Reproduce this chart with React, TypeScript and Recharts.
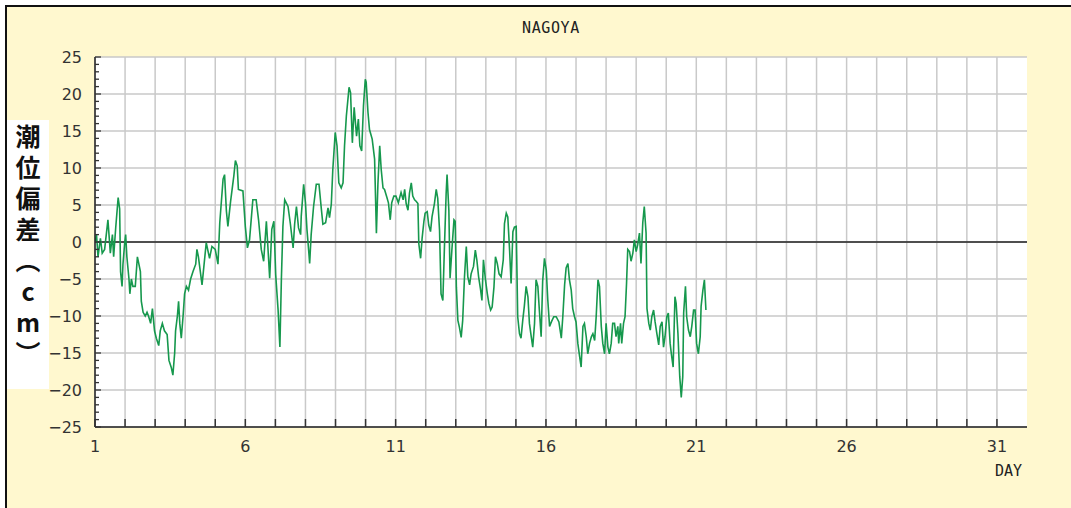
import React from 'react';
import { LineChart, Line, XAxis, YAxis, CartesianGrid, ReferenceLine } from 'recharts';

// 潮位偏差 (cm), as [day, cm]
const days01to04: [number, number][] = [
  [1.0, 0], [1.05, 1], [1.1, -2], [1.18, 0.5], [1.24, -1.5], [1.32, -1], [1.43, 3], [1.51, -1.5],
  [1.58, 1], [1.62, -2], [1.69, 2], [1.77, 6], [1.82, 4.5], [1.85, -4], [1.9, -6], [1.93, -3],
  [1.99, 0], [2.02, 1], [2.06, -2], [2.13, -5], [2.16, -7], [2.21, -5], [2.26, -6], [2.34, -6],
  [2.41, -2], [2.46, -3], [2.51, -4], [2.54, -8], [2.6, -9.5], [2.67, -10], [2.73, -9.5], [2.78, -10],
  [2.85, -11], [2.91, -9], [2.98, -12], [3.04, -13], [3.12, -14], [3.17, -12], [3.24, -11], [3.31, -12],
  [3.4, -12.5], [3.46, -16], [3.54, -17], [3.59, -18], [3.65, -15], [3.68, -12], [3.74, -10], [3.78, -8],
  [3.82, -11], [3.87, -13], [3.93, -10], [3.98, -7], [4.04, -6], [4.11, -6.5], [4.18, -5], [4.26, -4],
  [4.35, -3], [4.39, -1], [4.44, -2],
];

const days04to07: [number, number][] = [
  [4.56, -5.8], [4.7, -0.1], [4.81, -2.2], [4.89, -0.6], [5.0, -1], [5.09, -3], [5.15, 2.6], [5.26, 8.5],
  [5.31, 9.1], [5.37, 4.2], [5.42, 2.1], [5.51, 5.5], [5.62, 9], [5.67, 11], [5.73, 10.3], [5.77, 7.1],
  [5.92, 6.9], [6.0, 2.1], [6.07, -0.8], [6.14, 0.3], [6.25, 5.7], [6.36, 5.7], [6.44, 3], [6.53, -1],
  [6.61, -2.6], [6.7, 2.8], [6.75, -0.6], [6.81, -4.9], [6.88, 1.7], [6.95, 2.8], [7.01, -4.4], [7.09, -9.2],
  [7.15, -14.2], [7.2, -4.9], [7.25, 2.1], [7.31, 5.7], [7.42, 4.8], [7.5, 2.4], [7.59, -0.8], [7.64, 2.4],
  [7.7, 4.8], [7.77, 1.9], [7.84, 1],
];

const days08to11: [number, number][] = [
  [7.86, 3.5], [7.94, 7.8], [8.0, 5.3], [8.05, 1.7], [8.11, -1.3], [8.14, -2.9], [8.19, 1], [8.27, 4.8],
  [8.36, 7.8], [8.45, 7.8], [8.53, 4.4], [8.58, 2.4], [8.67, 2.6], [8.75, 4.6], [8.8, 3.3], [8.86, 5.1],
  [8.91, 9.8], [8.99, 14.8], [9.05, 13], [9.11, 8], [9.19, 7.3], [9.25, 8], [9.3, 13], [9.36, 17],
  [9.45, 20.9], [9.5, 20.2], [9.56, 13.4], [9.62, 18.2], [9.7, 14.3], [9.76, 16.6], [9.81, 13], [9.87, 12.3],
  [9.93, 18.4], [9.99, 22], [10.02, 21.6], [10.08, 17.5], [10.13, 15.2], [10.22, 13.9], [10.3, 11.2], [10.36, 1.2],
  [10.41, 7.8], [10.47, 13], [10.52, 9.8], [10.58, 7.3], [10.63, 7.1], [10.71, 6], [10.76, 5.3], [10.82, 3],
  [10.87, 5.3], [10.94, 6.2], [11.01, 6.2], [11.09, 5.3], [11.18, 6.7], [11.25, 5.7],
];

const days11to14: [number, number][] = [
  [11.3, 7.1], [11.35, 5.2], [11.41, 4.3], [11.46, 6.6], [11.52, 8], [11.57, 6.2], [11.63, 5.7], [11.68, 5.5],
  [11.74, 5.2], [11.77, -0.2], [11.83, -2.2], [11.88, 0.5], [11.94, 2.8], [11.98, 3.9], [12.05, 4.1], [12.1, 2.3],
  [12.16, 1.4], [12.21, 3.4], [12.29, 5.2], [12.35, 7.1], [12.4, 5.9], [12.46, 1.6], [12.51, -7], [12.57, -7.9],
  [12.62, -1.1], [12.68, 6.6], [12.71, 9.1], [12.77, 4.3], [12.81, -4.9], [12.87, -1.1], [12.94, 3], [12.98, 2.8],
  [13.02, -6.1], [13.07, -10.6], [13.12, -11.5], [13.18, -12.9], [13.23, -10.6], [13.29, -4.7], [13.35, -0.6], [13.4, -4.7],
  [13.46, -5.8], [13.51, -4.3], [13.59, -3.3], [13.65, -1.1], [13.7, -2.4], [13.76, -4.7], [13.82, -6.3], [13.87, -7.9],
  [13.92, -2.4], [13.99, -5.2], [14.05, -7], [14.1, -8.3], [14.16, -9.2], [14.21, -8.8], [14.27, -6.1], [14.32, -2],
  [14.38, -2.9], [14.44, -4.3], [14.51, -4.7], [14.58, -2.4], [14.62, 2.5], [14.68, 3.9], [14.73, 3.4], [14.79, -1.1],
];

const days15to18: [number, number][] = [
  [14.84, -5.6], [14.9, 1.4], [14.95, 2], [15.01, 2.1], [15.06, -10.1], [15.12, -12.4], [15.17, -13], [15.23, -10.5],
  [15.28, -8.7], [15.34, -6], [15.4, -7.4], [15.45, -11], [15.51, -12.8], [15.56, -14.2], [15.62, -11], [15.67, -5.1],
  [15.73, -6], [15.78, -9.2], [15.84, -12.8], [15.89, -5.3], [15.95, -2.2], [16.01, -3.8], [16.06, -7.8], [16.12, -11.4],
  [16.18, -10.8], [16.26, -10.1], [16.34, -10.1], [16.43, -10.8], [16.51, -13], [16.56, -10.1], [16.62, -5.8], [16.67, -3.5],
  [16.73, -2.9], [16.78, -5.1], [16.84, -6.5], [16.89, -9], [16.95, -10.1], [17.0, -10.8], [17.06, -13.7], [17.12, -15.5],
  [17.17, -16.9], [17.23, -11.4], [17.28, -11], [17.34, -12.8], [17.39, -15.1], [17.45, -13.7], [17.51, -12.8], [17.56, -12.4],
  [17.62, -13.3], [17.67, -10.1], [17.73, -5.1], [17.78, -6], [17.84, -11.4], [17.89, -13.7], [17.95, -15.1], [18.0, -11],
  [18.06, -14.2], [18.11, -15.1], [18.17, -13.7], [18.22, -11],
];

const days18to21: [number, number][] = [
  [18.28, -11], [18.33, -12.8], [18.39, -11.4], [18.42, -13.7], [18.48, -11], [18.52, -13.7], [18.58, -11], [18.63, -10.1],
  [18.68, -5.6], [18.72, -1], [18.78, -1.3], [18.83, -2.6], [18.89, -1.5], [18.94, 0.3], [19.0, -1.3], [19.05, -0.4],
  [19.11, 1.2], [19.16, -2.9], [19.22, 2.6], [19.27, 4.8], [19.33, 1.2], [19.36, -9], [19.42, -11], [19.47, -11.9],
  [19.52, -10.1], [19.58, -9.2], [19.63, -10.8], [19.69, -12.4], [19.75, -13.9], [19.8, -11.4], [19.86, -10.8], [19.91, -14.2],
  [19.96, -12.8], [20.02, -10.1], [20.07, -9.6], [20.13, -13.7], [20.17, -15.1], [20.23, -16.9], [20.29, -7.4], [20.33, -8.3],
  [20.39, -12.4], [20.45, -18.2], [20.5, -21], [20.55, -18.2], [20.58, -9.6], [20.64, -6], [20.68, -10.1], [20.74, -11.9],
  [20.8, -12.8], [20.85, -11.4], [20.91, -9.2], [20.96, -9.2], [21.01, -13.7], [21.07, -15.1], [21.13, -12.8], [21.16, -8.7],
  [21.22, -6.5], [21.27, -5.1], [21.32, -9.2],
];

const dayTicks = [1, 2, 3, 4, 5, 6, 7, 8, 9, 10, 11, 12, 13, 14, 15, 16, 17, 18, 19, 20, 21, 22, 23, 24, 25, 26, 27, 28, 29, 30, 31];
const dayLabels = [1, 6, 11, 16, 21, 26, 31];
const levelGrid = [-25, -20, -15, -10, -5, 0, 5, 10, 15, 20, 25];
const levelTicks = Array.from({ length: 51 }, (_, i) => i - 25);
const yLabel = '潮位偏差（cm）';

const data = [...days01to04, ...days04to07, ...days08to11, ...days11to14, ...days15to18, ...days18to21]
  .map(([day, cm]) => ({ day, cm }));

const W = 1071;
const H = 508;
const PLOT_LEFT = 95;
const PLOT_TOP = 57;
const PLOT_BOTTOM = 427;
const PLOT_RIGHT = 1027;
const AXIS_FONT = '"DejaVu Sans", Verdana, sans-serif';

const LevelTick = (props: any) => {
  const { y, payload } = props;
  const v = payload.value as number;
  const major = v % 5 === 0;
  return (
    <g>
      <line x1={PLOT_LEFT} x2={PLOT_LEFT + (major ? 6 : 4)} y1={y} y2={y} stroke="#333" strokeWidth={1.3} />
      {major && (
        <text x={PLOT_LEFT - 13} y={y} dy="0.36em" textAnchor="end" fontSize={16} fontFamily={AXIS_FONT} fill="#333">
          {v < 0 ? `\u2212${-v}` : v}
        </text>
      )}
    </g>
  );
};

const DayTick = (props: any) => {
  const { x, payload } = props;
  const d = payload.value as number;
  return (
    <g>
      <line x1={x} x2={x} y1={PLOT_BOTTOM} y2={PLOT_BOTTOM - 8} stroke="#333" strokeWidth={1.5} />
      {dayLabels.includes(d) && (
        <text x={x} y={PLOT_BOTTOM + 25} textAnchor="middle" fontSize={16} fontFamily={AXIS_FONT} fill="#333">
          {d}
        </text>
      )}
    </g>
  );
};

export default function App() {
  return (
    <div style={{ position: 'relative', width: W, height: H, overflow: 'hidden', background: '#ffffff' }}>
      <style>{'html, body { margin: 0; padding: 0; }'}</style>
      <div
        style={{
          position: 'absolute', left: 5, top: 5, right: 0, bottom: 0,
          borderTop: '2px solid #111', borderLeft: '2px solid #111', background: '#fff8cf',
        }}
      />
      <div
        style={{
          position: 'absolute', left: 451, top: 18, width: 200, textAlign: 'center', lineHeight: '20px',
          fontFamily: '"DejaVu Sans Mono", monospace', fontSize: 15, letterSpacing: 0.6, color: '#222',
        }}
      >
        NAGOYA
      </div>
      <div style={{ position: 'absolute', left: 0, top: 0 }}>
        <LineChart
          width={W}
          height={H}
          data={data}
          margin={{ top: PLOT_TOP, right: W - PLOT_RIGHT, bottom: H - PLOT_BOTTOM - 30, left: PLOT_LEFT - 60 }}
        >
          <CartesianGrid
            stroke="#c9c9c9"
            strokeWidth={1.5}
            fill="#ffffff"
            fillOpacity={1}
            horizontalValues={levelGrid}
            verticalValues={dayTicks}
          />
          <XAxis
            dataKey="day"
            type="number"
            domain={[1, 32]}
            ticks={dayTicks}
            interval={0}
            height={30}
            allowDataOverflow
            tickLine={false}
            axisLine={{ stroke: '#222', strokeWidth: 1.5 }}
            tick={<DayTick />}
          />
          <YAxis
            type="number"
            domain={[-25, 25]}
            ticks={levelTicks}
            interval={0}
            width={60}
            allowDataOverflow
            tickLine={false}
            axisLine={{ stroke: '#222', strokeWidth: 1.5 }}
            tick={<LevelTick />}
          />
          <ReferenceLine y={0} stroke="#222" strokeWidth={1.5} />
          <Line
            type="linear"
            dataKey="cm"
            stroke="#16984d"
            strokeWidth={1.6}
            dot={false}
            isAnimationActive={false}
          />
        </LineChart>
      </div>
      <div style={{ position: 'absolute', left: 7, top: 120, width: 42, height: 269, background: '#ffffff' }} />
      <div
        style={{
          position: 'absolute', left: 7, top: 124, width: 42, lineHeight: '42px',
          writingMode: 'vertical-rl', textOrientation: 'upright', letterSpacing: 6,
          fontFamily: '"Noto Sans CJK JP", "Noto Sans", sans-serif', fontSize: 25, fontWeight: 700, color: '#111',
        }}
      >
        {yLabel}
      </div>
      <div
        style={{
          position: 'absolute', right: W - 1022, top: 461, lineHeight: '20px',
          fontFamily: '"DejaVu Sans Mono", monospace', fontSize: 15, color: '#222',
        }}
      >
        DAY
      </div>
    </div>
  );
}
